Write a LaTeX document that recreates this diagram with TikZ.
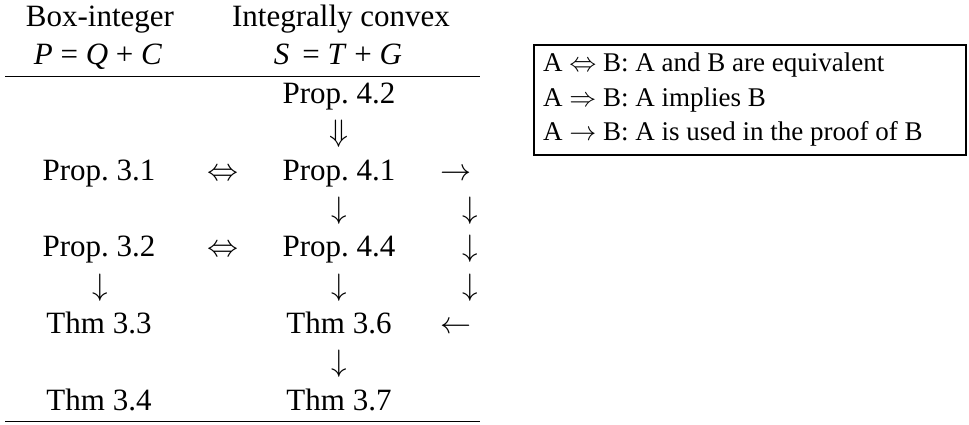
\RequirePackage{fix-cm}
\documentclass[tikz,border=0pt]{standalone}
\usepackage{fontspec}
\setmainfont{Liberation Serif}
\frenchspacing
\begin{document}
\begin{tikzpicture}[x=1pt,y=-1pt,
  cell/.style={anchor=base, inner sep=0pt, font=\fontsize{31}{37}\selectfont},
  leg/.style={anchor=base west, inner sep=0pt, font=\fontsize{27}{32}\selectfont},
  rulel/.style={line width=1.8pt},
  legbox/.style={draw, line width=1.5pt}]
\useasboundingbox (0,0) rectangle (969,425);
% header
\node[cell] (h1) at (100,26.7) {Box-integer};
\node[cell] (h2) at (341,26.7) {Integrally convex};
\node[cell] (f1) at (98,65) {\textit{P} = \textit{Q} + \textit{C}};
\node[cell] (f2) at (338,65) {\textit{S}\, = \textit{T} + \textit{G}};
\coordinate (tl) at (5,76.5);
\coordinate (tr) at (480,76.5);
\draw[rulel] (tl) -- (tr);
% body rows
\node[cell] (p42) at (339,103.3) {Prop. 4.2};
\node[cell] (a1) at (339,141.6) {$\Downarrow$};
\node[cell] (p31) at (99,180) {Prop. 3.1};
\node[cell] (e1) at (223,180) {$\Leftrightarrow$};
\node[cell] (p41) at (339,180) {Prop. 4.1};
\node[cell] (r1) at (456,180) {$\rightarrow$};
\node[cell] (a2) at (339,218.3) {$\downarrow$};
\node[cell] (r2) at (470,218.3) {$\downarrow$};
\node[cell] (p32) at (99,256.6) {Prop. 3.2};
\node[cell] (e2) at (223,256.6) {$\Leftrightarrow$};
\node[cell] (p44) at (339,256.6) {Prop. 4.4};
\node[cell] (r3) at (470,256.6) {$\downarrow$};
\node[cell] (a3) at (100,295) {$\downarrow$};
\node[cell] (a4) at (339,295) {$\downarrow$};
\node[cell] (r4) at (470,295) {$\downarrow$};
\node[cell] (t33) at (99,333.3) {Thm 3.3};
\node[cell] (t36) at (339,333.3) {Thm 3.6};
\node[cell] (r5) at (456,333.3) {$\leftarrow$};
\node[cell] (a5) at (339,371.6) {$\downarrow$};
\node[cell] (t34) at (99,410) {Thm 3.4};
\node[cell] (t37) at (339,410) {Thm 3.7};
\coordinate (bl) at (5,421.5);
\coordinate (br) at (480,421.5);
\draw[rulel] (bl) -- (br);
% legend
\coordinate (lb1) at (534,45);
\coordinate (lb2) at (966,155);
\draw[legbox] (lb1) rectangle (lb2);
\node[leg] (l1) at (543,71.5) {A $\Leftrightarrow$ B: A and B are equivalent};
\node[leg] (l2) at (543,106.5) {A $\Rightarrow$ B: A implies B};
\node[leg] (l3) at (543,140.5) {A $\rightarrow$ B: A is used in the proof of B};
\end{tikzpicture}
\end{document}
